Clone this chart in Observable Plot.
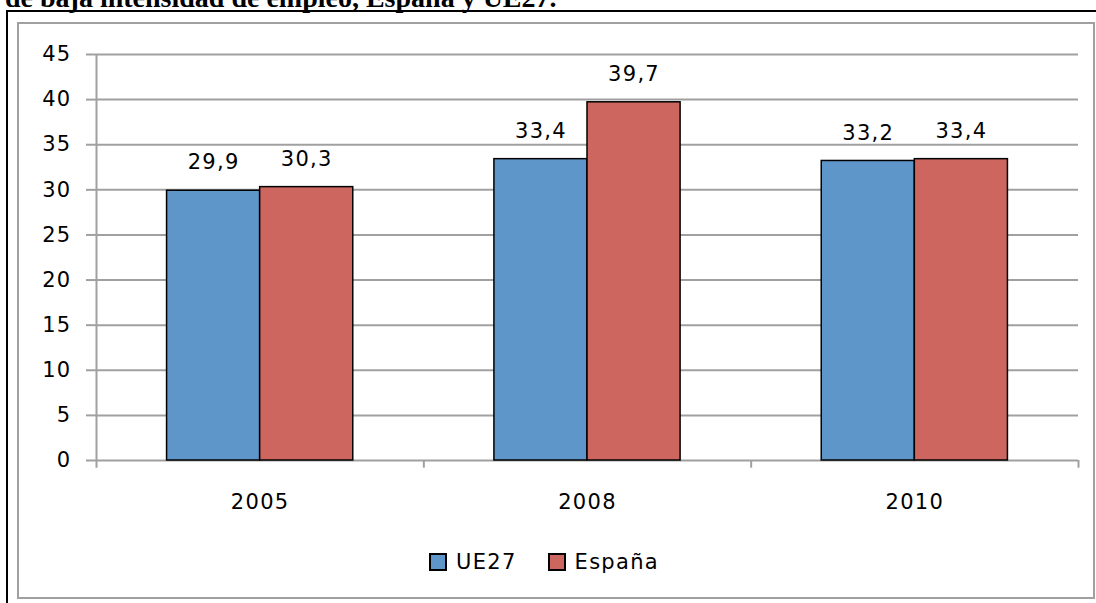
<!DOCTYPE html>
<html>
<head>
<meta charset="utf-8">
<script src="https://cdn.jsdelivr.net/npm/d3@7"></script>
<script src="https://cdn.jsdelivr.net/npm/@observablehq/plot@0.6"></script>
<style>
  html, body { margin: 0; padding: 0; background: white; }
  body { width: 1096px; height: 603px; overflow: hidden; position: relative; font-family: "DejaVu Sans", sans-serif; }
  #title { position: absolute; left: 5px; top: -16px; font-family: "Liberation Serif", "Times New Roman", serif; font-weight: bold; font-size: 28px; line-height: 28px; white-space: nowrap; color: black; }
  #outer { position: absolute; left: 6px; top: 10px; width: 1200px; height: 700px; border: 2px solid black; box-sizing: border-box; }
  #inner { position: absolute; left: 17px; top: 22px; width: 1078px; height: 577px; border: 2px solid #a0a0a0; box-sizing: border-box; }
  #chart { position: absolute; left: 0; top: 0; }
  #legend { position: absolute; left: 429px; top: 550px; display: flex; align-items: center; font-size: 21px; letter-spacing: 1.3px; color: black; }
  #legend .sw { width: 14px; height: 14px; border: 2px solid black; display: inline-block; margin-right: 9px; }
  #legend .item { display: flex; align-items: center; margin-right: 31px; }
  [aria-label="y-axis"] line, [aria-label="y-axis tick"], [aria-label="y-axis tick"] path { stroke: #a0a0a0; stroke-width: 2px; }
</style>
</head>
<body>
<div id="title">de baja intensidad de empleo, España y UE27.</div>
<div id="outer"></div>
<div id="inner"></div>
<div id="chart"></div>
<div id="legend"></div>
<script>
const years = ["2005", "2008", "2010"];
const seriesNames = ["UE27", "España"];
const ue27 = [29.9, 33.4, 33.2];
const espana = [30.3, 39.7, 33.4];
const seriesColors = ["#5F96CA", "#CD665F"];
const yTicks = [0, 5, 10, 15, 20, 25, 30, 35, 40, 45];

const values = [ue27, espana];
const rows = years.flatMap((year, i) =>
  seriesNames.map((s, k) => ({ year, i, k, series: s, value: values[k][i] }))
);

const barW = 0.2844; // bar width as a fraction of each year's group
const groupCenter = i => i + 0.5;

const chart = Plot.plot({
  width: 1096,
  height: 530,
  marginLeft: 96,
  marginRight: 18,
  marginTop: 54,
  marginBottom: 70,
  style: { fontFamily: "DejaVu Sans", fontSize: "21px", letterSpacing: "1.3px", color: "black", background: "transparent", overflow: "visible" },
  x: { type: "linear", domain: [0, years.length], axis: null },
  y: { domain: [0, 45], ticks: yTicks, tickSize: 10, tickPadding: 15, label: null, tickFormat: d => String(d) },
  color: { domain: seriesNames, range: seriesColors },
  marks: [
    Plot.ruleY(yTicks, { stroke: "#a0a0a0", strokeWidth: 2 }),
    Plot.ruleX([0], { y1: -0.85, y2: 45, stroke: "#a0a0a0", strokeWidth: 2 }),
    Plot.ruleX(years.map((d, i) => i + 1), { y1: -0.85, y2: 0, stroke: "#a0a0a0", strokeWidth: 2 }),
    Plot.rectY(rows, {
      x1: d => groupCenter(d.i) + (d.k - 1) * barW,
      x2: d => groupCenter(d.i) + d.k * barW,
      y: "value",
      fill: "series",
      stroke: "black",
      strokeWidth: 1.5
    }),
    Plot.text(rows, {
      x: d => groupCenter(d.i) + (d.k - 0.5) * barW,
      y: "value",
      text: d => d.value.toFixed(1).replace(".", ","),
      dy: -28,
      fontSize: 21,
      fill: "black"
    }),
    Plot.text(years, {
      x: (d, i) => groupCenter(i),
      y: () => 0,
      text: d => d,
      dy: 42,
      fontSize: 21,
      fill: "black"
    })
  ]
});
document.getElementById("chart").appendChild(chart);

const legend = document.getElementById("legend");
seriesNames.forEach((s, k) => {
  const item = document.createElement("span");
  item.className = "item";
  const sw = document.createElement("span");
  sw.className = "sw";
  sw.style.background = seriesColors[k];
  item.appendChild(sw);
  const t = document.createElement("span");
  t.textContent = s;
  item.appendChild(t);
  legend.appendChild(item);
});
</script>
</body>
</html>
